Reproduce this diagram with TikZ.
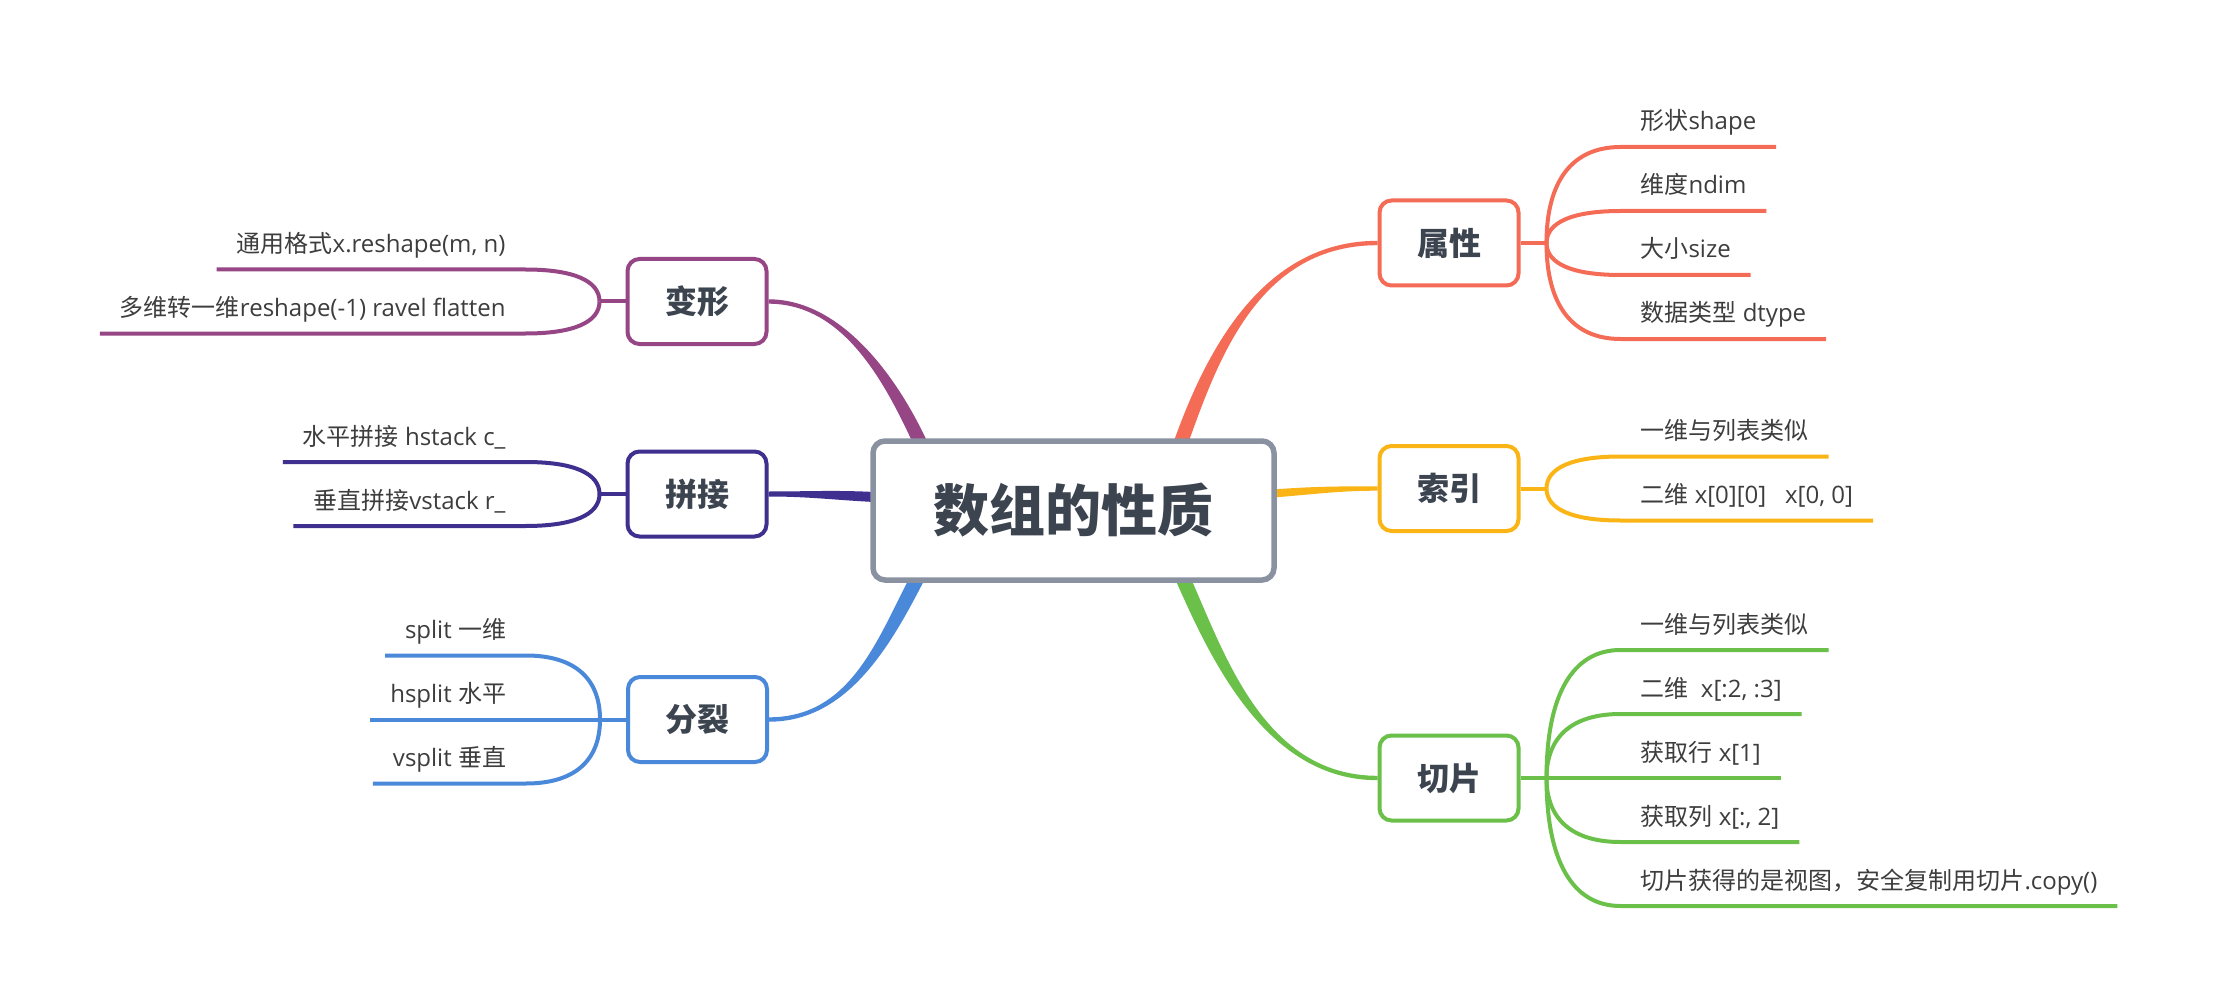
\documentclass[tikz,border=0pt]{standalone}
\usepackage{fontspec}
\setmainfont{Open Sans}
\newfontfamily\cjk{Noto Sans CJK SC}
\usetikzlibrary{calc,positioning}
\definecolor{ink}{HTML}{3D3D3D}
\definecolor{slate}{HTML}{3C4450}
\definecolor{rootline}{HTML}{8A92A1}
\definecolor{attrc}{HTML}{F46C56}
\definecolor{idxc}{HTML}{FBB416}
\definecolor{slcc}{HTML}{6BC04A}
\definecolor{rshc}{HTML}{964585}
\definecolor{catc}{HTML}{3F2F8F}
\definecolor{splc}{HTML}{4A88DA}
\pgfdeclarelayer{bg}
\pgfsetlayers{bg,main}
\newcommand\limb[7]{%
  \fill[#1] ($(#2)+(#6)$) .. controls ($(#2)+(#4)+(#6)$) and ($(#3)+(#5)+(#7)$) .. ($(#3)+(#7)$)
    -- ($(#3)-(#7)$) .. controls ($(#3)+(#5)-(#7)$) and ($(#2)+(#4)-(#6)$) .. ($(#2)-(#6)$) -- cycle;}
\begin{document}
\begin{tikzpicture}[x=1pt,y=-1pt,
  root/.style={draw=rootline,line width=5.5pt,fill=white,rounded corners=12pt,minimum width=401pt,minimum height=139pt,inner sep=0pt,text=slate,font=\fontsize{56}{60}\cjk\bfseries\selectfont},
  branch/.style={draw=#1,line width=4pt,fill=white,rounded corners=12pt,minimum width=139pt,minimum height=85pt,inner sep=0pt,text=slate,font=\fontsize{32}{36}\cjk\bfseries\selectfont},
  kid/.style={text=ink,font=\fontsize{24}{28}\selectfont,inner xsep=20pt,inner ysep=17pt,text height=18pt,text depth=0pt,outer sep=0pt},
  twig/.style={draw=#1,line width=4pt}]
  \begin{pgfonlayer}{bg}
    \fill[white] (0,0) rectangle (2214,1008);
  \end{pgfonlayer}
  \useasboundingbox (0,0) rectangle (2214,1008);

  \node[root] (root) at (1073.5,510.5) {数组的性质};
  \node[branch=attrc] (attr) at (1449,243) {属性};
  \node[branch=idxc] (idx) at (1449,488.5) {索引};
  \node[branch=slcc] (slc) at (1449,778) {切片};
  \node[branch=rshc] (rsh) at (697,301.5) {变形};
  \node[branch=catc] (cat) at (697,494) {拼接};
  \node[branch=splc] (spl) at (697.5,719.5) {分裂};

  \coordinate (aj) at ([xshift=26pt]attr.east);
  \coordinate (ij) at ([xshift=26pt]idx.east);
  \coordinate (sj) at ([xshift=26pt]slc.east);
  \coordinate (rj) at ([xshift=-26pt]rsh.west);
  \coordinate (cj) at ([xshift=-26pt]cat.west);
  \coordinate (pj) at ([xshift=-26pt]spl.west);

  \begin{pgfonlayer}{bg}
    \coordinate (r1) at ([xshift=107.5pt,yshift=-4pt]root.north);
    \coordinate (r2) at ([xshift=-4pt,yshift=17pt]root.east);
    \coordinate (r3) at ([xshift=109.5pt,yshift=4pt]root.south);
    \coordinate (r4) at ([xshift=-156.5pt,yshift=4pt]root.south);
    \coordinate (r5) at ([xshift=4pt,yshift=13.5pt]root.west);
    \coordinate (r6) at ([xshift=-153.5pt,yshift=-4pt]root.north);
    \limb{attrc}{r1}{attr.west}{31,-87}{-117,0}{7.5,0}{0,2.2}
    \limb{idxc}{r2}{idx.west}{40,-3}{-40,0}{0,4}{0,2.2}
    \limb{slcc}{r3}{slc.west}{35,79}{-112,0}{8,0}{0,-2.2}
    \limb{splc}{r4}{spl.east}{-33,64}{80,0}{8,0}{0,2.2}
    \limb{catc}{r5}{cat.east}{-40,-2}{40,0}{0,5}{0,2.5}
    \limb{rshc}{r6}{rsh.east}{-31,-67}{72,0}{7.5,0}{0,-2.2}
  \end{pgfonlayer}

  \draw[twig=attrc] (attr) -- (aj);
  \foreach \dy/\txt [count=\i] in {-96/{{\cjk 形状}shape},-32/{{\cjk 维度}ndim},32/{{\cjk 大小}size},96/{{\cjk 数据类型} dtype}}{
    \node[kid,anchor=south west] (attr\i) at ($(aj)+(74,\dy)$) {\txt};
    \draw[twig=attrc] (aj) .. controls +(0,{0.65*\dy}) and +(-48,0) .. (attr\i.south west) -- (attr\i.south east);
  }
  \draw[twig=idxc] (idx) -- (ij);
  \foreach \dy/\txt [count=\i] in {-32/{{\cjk 一维与列表类似}},32/{{\cjk 二维} x[0][0]\ \ \ x[0, 0]}}{
    \node[kid,anchor=south west] (idx\i) at ($(ij)+(74,\dy)$) {\txt};
    \draw[twig=idxc] (ij) .. controls +(0,{0.65*\dy}) and +(-48,0) .. (idx\i.south west) -- (idx\i.south east);
  }
  \draw[twig=slcc] (slc) -- (sj);
  \foreach \dy/\txt [count=\i] in {-128/{{\cjk 一维与列表类似}},-64/{{\cjk 二维}\ \ x[:2, :3]},0/{{\cjk 获取行} x[1]},64/{{\cjk 获取列} x[:, 2]},128/{{\cjk 切片获得的是视图，安全复制用切片}.copy()}}{
    \node[kid,anchor=south west] (slc\i) at ($(sj)+(74,\dy)$) {\txt};
    \draw[twig=slcc] (sj) .. controls +(0,{0.65*\dy}) and +(-48,0) .. (slc\i.south west) -- (slc\i.south east);
  }
  \draw[twig=rshc] (rsh) -- (rj);
  \foreach \dy/\txt [count=\i] in {-32/{{\cjk 通用格式}x.reshape(m, n)},32/{{\cjk 多维转一维}reshape(-1) ravel flatten}}{
    \node[kid,anchor=south east] (rsh\i) at ($(rj)+(-74,\dy)$) {\txt};
    \draw[twig=rshc] (rj) .. controls +(0,{0.65*\dy}) and +(48,0) .. (rsh\i.south east) -- (rsh\i.south west);
  }
  \draw[twig=catc] (cat) -- (cj);
  \foreach \dy/\txt [count=\i] in {-32/{{\cjk 水平拼接} hstack c\_},32/{{\cjk 垂直拼接}vstack r\_}}{
    \node[kid,anchor=south east] (cat\i) at ($(cj)+(-74,\dy)$) {\txt};
    \draw[twig=catc] (cj) .. controls +(0,{0.65*\dy}) and +(48,0) .. (cat\i.south east) -- (cat\i.south west);
  }
  \draw[twig=splc] (spl) -- (pj);
  \foreach \dy/\txt [count=\i] in {-64/{split {\cjk 一维}},0/{hsplit {\cjk 水平}},64/{vsplit {\cjk 垂直}}}{
    \node[kid,anchor=south east] (spl\i) at ($(pj)+(-74,\dy)$) {\txt};
    \draw[twig=splc] (pj) .. controls +(0,{0.65*\dy}) and +(48,0) .. (spl\i.south east) -- (spl\i.south west);
  }
\end{tikzpicture}
\end{document}
